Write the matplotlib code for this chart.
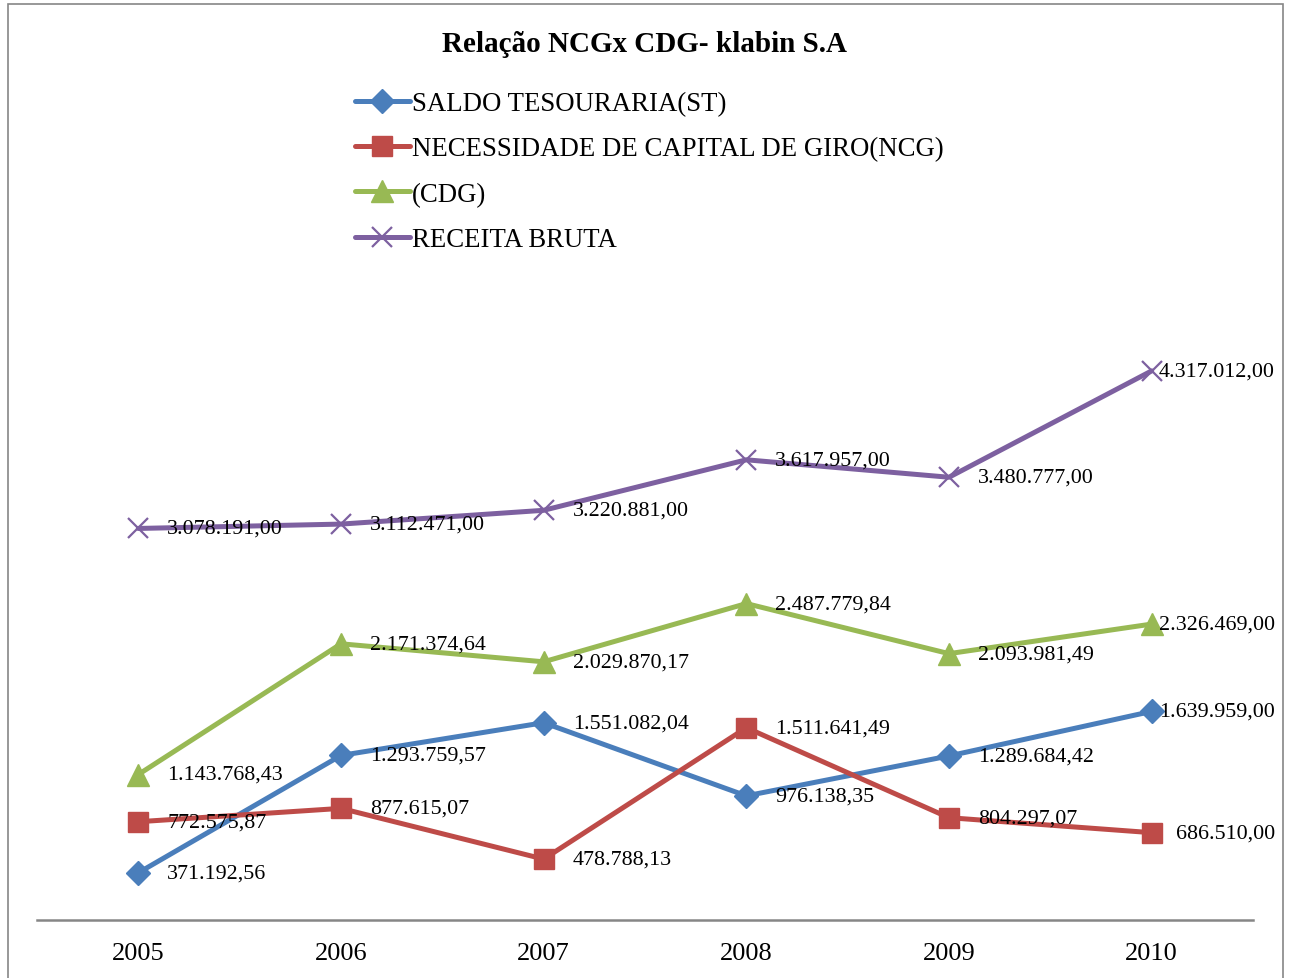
import matplotlib
matplotlib.use("Agg")
import matplotlib.pyplot as plt
from matplotlib.patches import Rectangle

years = ["2005", "2006", "2007", "2008", "2009", "2010"]
saldo_tesouraria = [371192.56, 1293759.57, 1551082.04, 976138.35, 1289684.42, 1639959.00]
ncg = [772575.87, 877615.07, 478788.13, 1511641.49, 804297.07, 686510.00]
cdg = [1143768.43, 2171374.64, 2029870.17, 2487779.84, 2093981.49, 2326469.00]
receita_bruta = [3078191.00, 3112471.00, 3220881.00, 3617957.00, 3480777.00, 4317012.00]
series_names = ["SALDO TESOURARIA(ST)", "NECESSIDADE DE CAPITAL DE GIRO(NCG)", "(CDG)", "RECEITA BRUTA"]

plt.rcParams['font.family'] = ['Liberation Serif', 'DejaVu Serif']

W, H = 1293, 979
fig = plt.figure(figsize=(W / 100, H / 100), dpi=100)
ax = fig.add_axes([37 / W, 1 - 921 / H, (1253 - 37) / W, (921 - 285) / H])


def fmt(v):
    s = f"{v:,.2f}"
    return s.replace(",", "X").replace(".", ",").replace("X", ".")


styles = [
    dict(color="#4A7EBB", marker="D", markersize=12),
    dict(color="#BE4B48", marker="s", markersize=15),
    dict(color="#98B954", marker="^", markersize=16),
    dict(color="#7D60A0", marker="x", markersize=15, markeredgewidth=1.6),
]
data = [saldo_tesouraria, ncg, cdg, receita_bruta]
x = list(range(len(years)))
last = len(years) - 1
for vals, name, st in zip(data, series_names, styles):
    ax.plot(x, vals, linewidth=3.6, label=name, solid_capstyle="round", **st)
    for xi, v in zip(x, vals):
        if xi == last:
            ax.annotate(fmt(v), (xi, v), xytext=(123, 0), textcoords="offset pixels",
                        ha="right", va="center", fontsize=15.8, color="black")
        else:
            ax.annotate(fmt(v), (xi, v), xytext=(29, 0), textcoords="offset pixels",
                        ha="left", va="center", fontsize=15.8, color="black")

ax.set_xlim(-0.5, 5.5)
ax.set_ylim(0, 5000000)
ax.set_xticks(x)
ax.set_xticklabels(years, fontsize=19)
ax.tick_params(axis="x", length=0, pad=16)
ax.set_yticks([])
for s in ["top", "right", "left"]:
    ax.spines[s].set_visible(False)
ax.spines["bottom"].set_color("#868686")
ax.spines["bottom"].set_linewidth(1.8)
ax.patch.set_visible(False)

fig.text(645 / W, 1 - 45 / H, "Relação NCGx CDG- klabin S.A", ha="center", va="center",
         fontsize=21, fontweight="bold")

leg = fig.legend(loc="upper left", bbox_to_anchor=(355 / W, 1 - 92 / H), bbox_transform=fig.transFigure,
                 frameon=False, fontsize=19.3, handlelength=2.05, handletextpad=0.08,
                 labelspacing=0.76, borderpad=0, borderaxespad=0)

fig.patches.append(Rectangle((8 / W, -0.05), (1283 - 8) / W, 1.05 - 5 / H, transform=fig.transFigure,
                             fill=False, edgecolor="#868686", linewidth=1.2))

fig.savefig("out.png", dpi=100)
